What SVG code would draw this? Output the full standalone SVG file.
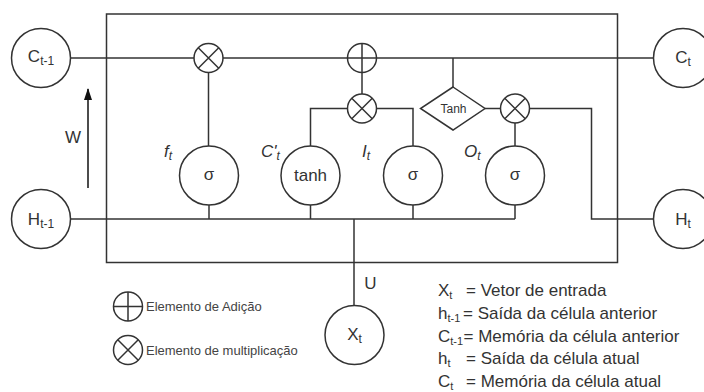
<svg xmlns="http://www.w3.org/2000/svg" xmlns:xlink="http://www.w3.org/1999/xlink" width="704" height="392" viewBox="0 0 704 392">
<style>
.ln{stroke:#333;stroke-width:1.5;fill:none}
.nd{fill:#fff;stroke:#333;stroke-width:1.5}
.tx{font-family:"Liberation Sans",Arial,sans-serif;fill:#333}
.lb{font-family:"Liberation Sans",Arial,sans-serif;fill:#333;font-size:17px;text-anchor:middle}
.it{font-style:italic}
.sub{font-size:12px}
.ls{font-size:11px}
.lg{font-family:"Liberation Sans",Arial,sans-serif;fill:#333;font-size:17px}
.sm{font-family:"Liberation Sans",Arial,sans-serif;fill:#444;font-size:13px}
</style>
<defs>
<g id="mul"><circle class="nd" cx="0" cy="0" r="14.5"/><path class="ln" d="M-10.25 -10.25L10.25 10.25M10.25 -10.25L-10.25 10.25"/></g>
<g id="add"><circle class="nd" cx="0" cy="0" r="14.5"/><path class="ln" d="M0 -14.5V14.5M-14.5 0H14.5"/></g>
<marker id="ah" markerWidth="12" markerHeight="8" refX="11" refY="4" orient="auto" markerUnits="userSpaceOnUse" viewBox="0 0 12 8"><path d="M0 0L12 4L0 8Z" fill="#111"/></marker>
</defs>
<rect id="cell" class="ln" x="106.5" y="14" width="511" height="248.5"/>
<g id="connectors">
<path class="ln" d="M70.5 58H653.5"/>
<path class="ln" d="M208.5 72.5V146"/>
<path class="ln" d="M362 72.5V94"/>
<path class="ln" d="M310.5 146V108.5H347.5"/>
<path class="ln" d="M413 146V108.5H376.5"/>
<path class="ln" d="M453 58V87"/>
<path class="ln" d="M485 108.5H500.5"/>
<path class="ln" d="M515 146V123"/>
<path class="ln" d="M529.5 108.5H591.5V219H653.5"/>
<path class="ln" d="M70.5 219H515"/>
<path class="ln" d="M209 205V219M310.5 205V219M413 205V219M515 205V219"/>
<path class="ln" d="M354 219V305.5"/>
<path d="M88 188V89" stroke="#111" stroke-width="1.5" fill="none" marker-end="url(#ah)"/>
</g>
<g id="node-ct1"><circle class="nd" cx="41" cy="58" r="29.5"/><text class="lb" x="41" y="62">C<tspan class="sub" dy="3">t-1</tspan></text></g>
<g id="node-ht1"><circle class="nd" cx="41" cy="219" r="29.5"/><text class="lb" x="41" y="225">H<tspan class="sub" dy="3">t-1</tspan></text></g>
<g id="node-ct"><circle class="nd" cx="683" cy="58" r="29.5"/><text class="lb" x="683" y="63">C<tspan class="sub" dy="3">t</tspan></text></g>
<g id="node-ht"><circle class="nd" cx="683" cy="219" r="29.5"/><text class="lb" x="683" y="225">H<tspan class="sub" dy="3">t</tspan></text></g>
<g id="node-xt"><circle class="nd" cx="354.5" cy="335" r="29.5"/><text class="lb" x="354.5" y="340">X<tspan class="sub" dy="3">t</tspan></text></g>
<g id="mul-f"><use xlink:href="#mul" x="208.5" y="58"/></g>
<g id="add-c"><use xlink:href="#add" x="362" y="58"/></g>
<g id="mul-i"><use xlink:href="#mul" x="362" y="108.5"/></g>
<g id="mul-o"><use xlink:href="#mul" x="515" y="108.5"/></g>
<g id="tanh-diamond"><path class="nd" d="M453 87L485 108.5L453 130L420.5 108.5Z"/><text class="tx" x="453.5" y="112.5" font-size="12" text-anchor="middle">Tanh</text></g>
<g id="sig-f"><circle class="nd" cx="209" cy="175.5" r="29.5"/><text class="lb" x="209" y="179.5" font-size="18">σ</text></g>
<g id="tanh-c"><circle class="nd" cx="310.5" cy="175.5" r="29.5"/><text class="lb" x="310.5" y="180.5">tanh</text></g>
<g id="sig-i"><circle class="nd" cx="413" cy="175.5" r="29.5"/><text class="lb" x="413" y="179.5" font-size="18">σ</text></g>
<g id="sig-o"><circle class="nd" cx="515" cy="175.5" r="29.5"/><text class="lb" x="515" y="179.5" font-size="18">σ</text></g>
<g id="labels">
<text class="tx it" x="164" y="157" font-size="17">f<tspan class="sub" dy="3">t</tspan></text>
<text class="tx it" x="261" y="157" font-size="17">C'<tspan class="sub" dy="3">t</tspan></text>
<text class="tx it" x="362" y="157" font-size="17">I<tspan class="sub" dy="3">t</tspan></text>
<text class="tx it" x="464" y="157" font-size="17">O<tspan class="sub" dy="3">t</tspan></text>
<text class="tx" x="73" y="143" font-size="17" text-anchor="middle">W</text>
<text class="tx" x="370.5" y="289" font-size="17" text-anchor="middle">U</text>
</g>
<g id="legend-ops">
<use xlink:href="#add" x="128" y="306.5"/>
<text class="sm" x="146" y="311">Elemento de Adição</text>
<use xlink:href="#mul" x="128" y="350"/>
<text class="sm" x="146" y="355">Elemento de multiplicação</text>
</g>
<g id="legend-vars">
<text class="lg" x="438" y="296">X<tspan class="ls" dy="3">t</tspan></text>
<text class="lg" x="466" y="296">= Vetor de entrada</text>
<text class="lg" x="438" y="318.5">h<tspan class="ls" dy="3">t-1</tspan></text>
<text class="lg" x="463" y="318.5">= Saída da célula anterior</text>
<text class="lg" x="438" y="341.5">C<tspan class="ls" dy="3">t-1</tspan></text>
<text class="lg" x="463.5" y="341.5">= Memória da célula anterior</text>
<text class="lg" x="438" y="364">h<tspan class="ls" dy="3">t</tspan></text>
<text class="lg" x="466" y="364">= Saída da célula atual</text>
<text class="lg" x="438" y="386.5">C<tspan class="ls" dy="3">t</tspan></text>
<text class="lg" x="466" y="386.5">= Memória da célula atual</text>
</g>
</svg>
